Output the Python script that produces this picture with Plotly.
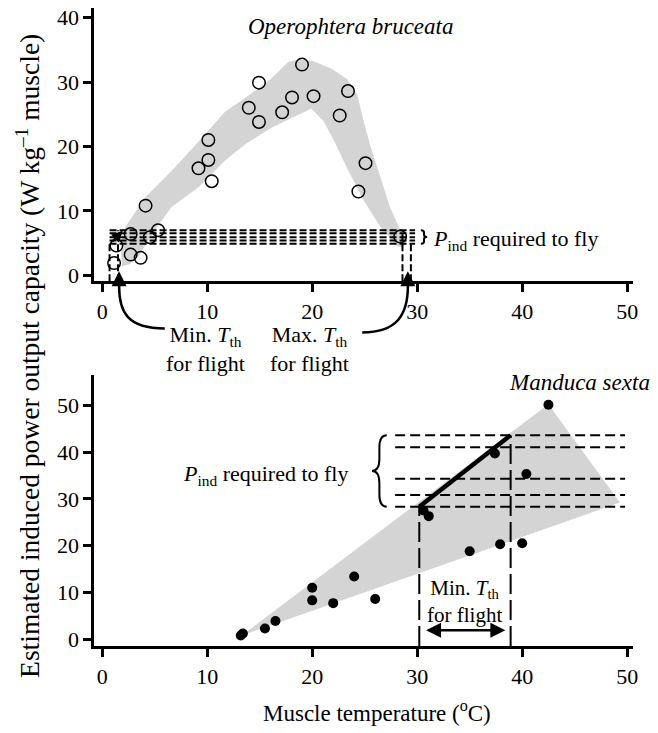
import plotly.graph_objects as go

W, H = 658, 733
FONT = "Liberation Serif"

# ---------------- data: Operophtera bruceata (top) ----------------
op_temp = [1.13, 1.35, 2.71, 2.71, 3.66, 4.13, 4.54, 5.32, 9.17, 10.11, 10.11, 10.43,
           13.96, 14.93, 14.93, 17.14, 18.08, 19.03, 20.13, 22.62, 23.41, 24.4, 25.08, 28.38]
op_power = [1.9, 4.6, 6.4, 3.2, 2.7, 10.8, 5.9, 7.0, 16.6, 21.0, 17.9, 14.6,
            26.0, 29.9, 23.8, 25.3, 27.6, 32.7, 27.8, 24.8, 28.6, 13.0, 17.4, 6.0]

op_band_upper_x = [1.9, 2.2, 4.1, 6.6, 9.2, 11.7, 13.6, 16.1, 17.7, 18.6, 20.0, 21.8,
                   23.3, 24.3, 24.9, 25.5, 26.5, 27.4, 28.4, 29.0]
op_band_upper_y = [6.0, 7.5, 12.1, 16.2, 20.8, 25.4, 27.5, 30.5, 33.1, 33.5, 33.3, 32.1,
                   30.5, 28.0, 23.9, 20.3, 15.2, 10.6, 7.0, 5.5]
op_band_lower_x = [28.7, 28.1, 26.5, 24.9, 23.3, 22.1, 21.1, 19.9, 19.3, 18.0, 16.1, 13.6,
                   11.7, 9.2, 6.6, 4.8, 3.5, 2.6, 1.9, 1.8]
op_band_lower_y = [4.3, 4.5, 7.5, 11.6, 16.7, 20.8, 23.9, 25.9, 25.4, 24.4, 22.9, 20.3,
                   17.8, 13.7, 10.6, 6.5, 3.0, 1.7, 1.4, 3.0]

op_pind_levels = [4.9, 5.4, 5.9, 6.5, 7.0]
op_pind_span = [0.7, 29.8]
op_tmin = [0.7, 1.5]
op_tmin_top = [4.9, 7.0]
op_tmax = [28.6, 29.4]
op_tmax_top = [7.0, 4.9]

# ---------------- data: Manduca sexta (bottom) ----------------
ms_temp = [13.2, 13.4, 15.5, 16.5, 20.0, 20.0, 22.0, 24.0, 26.0, 30.6, 31.1,
           35.0, 37.9, 37.4, 40.0, 40.4, 42.5]
ms_power = [0.8, 1.2, 2.3, 3.9, 11.0, 8.3, 7.7, 13.4, 8.6, 27.5, 26.3,
            18.8, 20.3, 39.7, 20.5, 35.3, 50.1]

ms_band_x = [13.3, 42.5, 49.3]
ms_band_y = [0.8, 50.2, 29.2]

ms_pind_levels = [28.3, 30.8, 34.3, 41.0, 43.6]
ms_pind_span = [27.9, 49.8]
ms_tmin = [30.2, 38.9]
ms_line_y = [28.3, 43.6]
ms_arrow_y = 1.9

x_ticks = [0, 10, 20, 30, 40, 50]
top_y_ticks = [0, 10, 20, 30, 40]
bot_y_ticks = [0, 10, 20, 30, 40, 50]

# ---------------- layout geometry ----------------
x_dom = [95 / W, 638 / W]
x_rng = [-0.756, 50.57]
top_dom = [1 - 282 / H, 1 - 5 / H]
top_rng = [-0.92, 41.5]
bot_dom = [1 - 652 / H, 1 - 377 / H]
bot_rng = [-1.48, 56.5]


def pp(px, py):
    return px / W, 1 - py / H


fig = go.Figure()

# top band
fig.add_trace(go.Scatter(
    x=op_band_upper_x + op_band_lower_x, y=op_band_upper_y + op_band_lower_y,
    fill="toself", fillcolor="#d4d4d4", line=dict(width=0), mode="lines",
    hoverinfo="skip", xaxis="x", yaxis="y"))

# top dashed horizontal lines
for lv in op_pind_levels:
    fig.add_trace(go.Scatter(x=op_pind_span, y=[lv, lv], mode="lines",
                             line=dict(color="black", width=2, dash="7px,3px"),
                             xaxis="x", yaxis="y"))
for xv, yt in zip(op_tmin + op_tmax, op_tmin_top + op_tmax_top):
    fig.add_trace(go.Scatter(x=[xv, xv], y=[top_rng[0], yt], mode="lines",
                             line=dict(color="black", width=2, dash="7px,3px"),
                             xaxis="x", yaxis="y"))

# top points
fig.add_trace(go.Scatter(x=op_temp, y=op_power, mode="markers",
                         marker=dict(symbol="circle-open", size=12.5, color="black",
                                     line=dict(width=1.5, color="black")),
                         xaxis="x", yaxis="y"))

# bottom band
fig.add_trace(go.Scatter(x=ms_band_x, y=ms_band_y, fill="toself", fillcolor="#d4d4d4",
                         line=dict(width=0), mode="lines", hoverinfo="skip",
                         xaxis="x2", yaxis="y2"))
for lv in ms_pind_levels:
    fig.add_trace(go.Scatter(x=ms_pind_span, y=[lv, lv], mode="lines",
                             line=dict(color="black", width=2, dash="10px,5px"),
                             xaxis="x2", yaxis="y2"))
for xv, yt in zip(ms_tmin, ms_line_y):
    fig.add_trace(go.Scatter(x=[xv, xv], y=[bot_rng[0], yt], mode="lines",
                             line=dict(color="black", width=2, dash="20px,6px"),
                             xaxis="x2", yaxis="y2"))
fig.add_trace(go.Scatter(x=ms_tmin, y=ms_line_y, mode="lines",
                         line=dict(color="black", width=4.5),
                         xaxis="x2", yaxis="y2"))
fig.add_trace(go.Scatter(x=ms_temp, y=ms_power, mode="markers",
                         marker=dict(size=10, color="black"),
                         xaxis="x2", yaxis="y2"))


def brace(x_end, x_tip, y0, y1, d):
    xm = (x_end + x_tip) / 2
    ym = (y0 + y1) / 2
    s = 1 if y1 > y0 else -1
    return (f"M {x_end},{y1} Q {xm},{y1} {xm},{y1 - s*d} L {xm},{ym + s*d} "
            f"Q {xm},{ym} {x_tip},{ym} Q {xm},{ym} {xm},{ym - s*d} "
            f"L {xm},{y0 + s*d} Q {xm},{y0} {x_end},{y0}")


shapes = [
    dict(type="path", xref="x2", yref="y2",
         path=brace(27.1, 25.7, min(ms_pind_levels), max(ms_pind_levels), 2.6),
         line=dict(color="black", width=2)),
    dict(type="path", xref="x", yref="y",
         path=brace(30.35, 30.95, min(op_pind_levels), max(op_pind_levels), 0.35),
         line=dict(color="black", width=2)),
]

# curved connectors under top axis (paper coords)
a = pp(166, 330); b = pp(128, 330); c = pp(120, 313); d = pp(120, 287)
shapes.append(dict(type="path", xref="paper", yref="paper",
                   path=f"M {a[0]},{a[1]} C {b[0]},{b[1]} {c[0]},{c[1]} {d[0]},{d[1]}",
                   line=dict(color="black", width=2.5)))
a = pp(365, 334); b = pp(400, 334); c = pp(411, 316); d = pp(411, 287)
shapes.append(dict(type="path", xref="paper", yref="paper",
                   path=f"M {a[0]},{a[1]} C {b[0]},{b[1]} {c[0]},{c[1]} {d[0]},{d[1]}",
                   line=dict(color="black", width=2.5)))

ann = []


def txt(text, px, py, size=22, xanchor="center", yanchor="middle", angle=0):
    x, y = pp(px, py)
    ann.append(dict(text=text, x=x, y=y, xref="paper", yref="paper", showarrow=False,
                    xanchor=xanchor, yanchor=yanchor, textangle=angle, align="center",
                    font=dict(family=FONT, size=size, color="black")))


txt("<i>Operophtera bruceata</i>", 353, 24, 23)
txt("<i>P</i><sub>ind</sub> required to fly", 434, 240, 22, xanchor="left")
txt("Min. <i>T</i><sub>th</sub><br>for flight", 207, 351, 22)
txt("Max. <i>T</i><sub>th</sub><br>for flight", 312, 351, 22)
txt("<i>Manduca sexta</i>", 584, 385, 23)
txt("<i>P</i><sub>ind</sub> required to fly", 353, 479, 22, xanchor="right")
txt("Min. <i>T</i><sub>th</sub><br>for flight", 468, 607, 21)
txt("Muscle temperature (<sup>o</sup>C)", 380, 718, 23)
txt("Estimated induced power output capacity (W kg<sup>–1</sup> muscle)", 28, 358, 27.5, angle=-90)

# arrowheads of curved connectors
for px in (120, 411):
    x, y = pp(px, 272)
    ann.append(dict(x=x, y=y, xref="paper", yref="paper", ax=0, ay=16, axref="pixel",
                    ayref="pixel", showarrow=True, arrowhead=2, arrowsize=1.2,
                    arrowwidth=2.5, arrowcolor="black", text=""))
# small diagonal arrow top-left
ann.append(dict(x=1.95, y=6.9, xref="x", yref="y", ax=0.82, ay=5.0, axref="x", ayref="y",
                showarrow=True, arrowhead=2, arrowsize=1.1, arrowwidth=2,
                arrowcolor="black", text=""))
# double arrow bottom
ann.append(dict(x=38.4, y=ms_arrow_y, xref="x2", yref="y2", ax=30.7, ay=ms_arrow_y,
                axref="x2", ayref="y2", showarrow=True, arrowhead=2, arrowside="end+start",
                arrowsize=1.2, arrowwidth=2.5, arrowcolor="black", text=""))

axis_common = dict(showline=True, linewidth=3, linecolor="black", ticks="outside",
                   ticklen=8, tickwidth=3, tickcolor="black", showgrid=False,
                   zeroline=False, tickfont=dict(family=FONT, size=22, color="black"))

fig.update_layout(
    width=W, height=H, margin=dict(l=0, r=0, t=0, b=0),
    paper_bgcolor="white", plot_bgcolor="white", showlegend=False,
    font=dict(family=FONT, color="black"),
    xaxis=dict(domain=x_dom, range=x_rng, tickvals=x_ticks, anchor="y", **axis_common),
    yaxis=dict(domain=top_dom, range=top_rng, tickvals=top_y_ticks, anchor="x", **axis_common),
    xaxis2=dict(domain=x_dom, range=x_rng, tickvals=x_ticks, anchor="y2", **axis_common),
    yaxis2=dict(domain=bot_dom, range=bot_rng, tickvals=bot_y_ticks, anchor="x2", **axis_common),
    shapes=shapes, annotations=ann,
)

fig.write_html("out.html")
